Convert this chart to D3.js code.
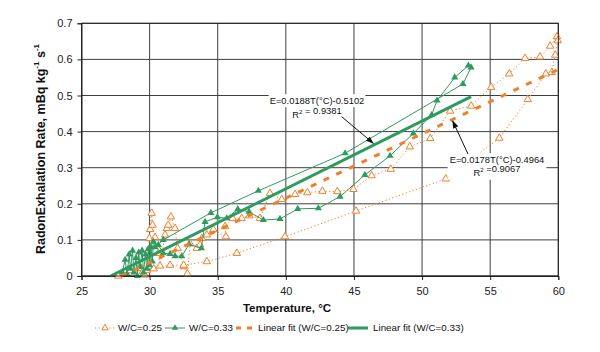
<!DOCTYPE html>
<html>
<head>
<meta charset="utf-8">
<script src="https://cdn.jsdelivr.net/npm/d3@7"></script>
<style>
  body { margin: 0; background: #fff; }
  svg { font-family: "Liberation Sans", Arial, sans-serif; }
</style>
</head>
<body>
<svg id="chart" width="600" height="352"></svg>
<script>
// values: [temperature °C, exhalation rate]
const tempTicks = [25, 30, 35, 40, 45, 50, 55, 60];
const rateTicks = [0, 0.1, 0.2, 0.3, 0.4, 0.5, 0.6, 0.7];

const wc25 = [
  [27.7, 0.0], [28.56, 0.015], [29.4, 0.021], [29.5, 0.012], [29.66, 0.003], [29.8, 0.015],
  [29.9, 0.026], [29.98, 0.104], [30.03, 0.129], [30.15, 0.174], [30.22, 0.141], [30.4, 0.107],
  [30.64, 0.063], [30.76, 0.028], [31.13, 0.114], [31.26, 0.132], [31.37, 0.141], [31.57, 0.164],
  [31.86, 0.132], [32.06, 0.077], [32.5, 0.026], [32.77, 0.006], [32.97, 0.09], [33.46, 0.077],
  [33.7, 0.086], [33.83, 0.104], [34.2, 0.114], [34.68, 0.129], [35.6, 0.109], [35.54, 0.137],
  [36.1, 0.16], [36.76, 0.16], [37.32, 0.167], [38.1, 0.16], [38.84, 0.229], [39.7, 0.212],
  [40.68, 0.226], [41.58, 0.231], [42.68, 0.235], [43.78, 0.234], [44.96, 0.24], [46.3, 0.278],
  [47.7, 0.296], [49.1, 0.358], [50.6, 0.381], [52.06, 0.457], [53.6, 0.471], [55.07, 0.523],
  [56.4, 0.56], [57.56, 0.603], [58.66, 0.607], [59.4, 0.637], [59.9, 0.663], [59.96, 0.652],
  [59.77, 0.612], [59.52, 0.564], [59.08, 0.56], [57.76, 0.489], [55.67, 0.382], [51.74, 0.269],
  [45.15, 0.18], [39.94, 0.109], [36.4, 0.063], [34.2, 0.04], [32.5, 0.03], [31.5, 0.03], [30.3, 0.02]
];

const wc33 = [
  [28.0, 0.01], [28.2, 0.045], [28.35, 0.005], [28.5, 0.06], [28.6, 0.02], [28.75, 0.07],
  [28.85, 0.01], [29.0, 0.05], [29.1, 0.0], [29.2, 0.065], [29.3, 0.025], [29.45, 0.07],
  [29.55, 0.01], [29.7, 0.06], [29.8, 0.02], [29.9, 0.075], [30.0, 0.03], [30.1, 0.08],
  [30.2, 0.04], [30.27, 0.095], [30.64, 0.086], [31.0, 0.063], [31.5, 0.061], [31.87, 0.055],
  [32.36, 0.055], [32.9, 0.088], [33.8, 0.077], [34.07, 0.15], [34.97, 0.163], [35.66, 0.16],
  [36.47, 0.185], [37.3, 0.178], [38.35, 0.155], [39.57, 0.158], [40.87, 0.186], [42.39, 0.1875],
  [43.98, 0.22], [45.8, 0.28], [47.65, 0.333], [49.36, 0.395], [50.7, 0.446], [51.1, 0.486],
  [52.4, 0.55], [53.4, 0.583], [53.6, 0.578], [53.0, 0.532], [44.35, 0.34], [37.98, 0.236],
  [34.5, 0.175], [31.0, 0.1], [30.4, 0.08]
];

// end points of the two fitted lines
const fit25 = [[27.9, 0.0], [60, 0.572]];
const fit33 = [[27.14, 0.0], [53.6, 0.497]];

const legendLabels = ['W/C=0.25', 'W/C=0.33', 'Linear fit (W/C=0.25)', 'Linear fit (W/C=0.33)'];

const orange = '#ef7f2a';
const green = '#2f9a5f';
const gridColor = '#3f3f3f';

const svg = d3.select('#chart');
const x = d3.scaleLinear().domain([25, 60]).range([81.5, 558.3]);
const y = d3.scaleLinear().domain([0, 0.7]).range([276, 23.3]);

// grid
svg.append('g').selectAll('line')
  .data(tempTicks)
  .enter().append('line')
  .attr('x1', d => x(d)).attr('x2', d => x(d))
  .attr('y1', y(0)).attr('y2', y(0.7))
  .attr('stroke', gridColor).attr('stroke-width', 1);

svg.append('g').selectAll('line')
  .data(rateTicks)
  .enter().append('line')
  .attr('x1', x(25)).attr('x2', x(60))
  .attr('y1', d => y(d)).attr('y2', d => y(d))
  .attr('stroke', gridColor).attr('stroke-width', 1);

const xAxis = svg.append('g')
  .attr('transform', `translate(0,${y(0)})`)
  .call(d3.axisBottom(x).tickValues(tempTicks).tickSize(4).tickPadding(7).tickFormat(d3.format('d')));
const yAxis = svg.append('g')
  .attr('transform', `translate(${x(25)},0)`)
  .call(d3.axisLeft(y).tickValues(rateTicks).tickSize(4).tickPadding(5).tickFormat(d => d === 0 ? '0' : d3.format('.1f')(d)));

[xAxis, yAxis].forEach(a => {
  a.selectAll('text').attr('font-size', 11).attr('fill', '#222').attr('font-family', '"Liberation Sans", Arial, sans-serif');
  a.selectAll('line').attr('stroke', '#222');
  a.select('.domain').attr('stroke', '#222');
});

const line = d3.line().x(d => x(d[0])).y(d => y(d[1]));

// W/C = 0.25 series
svg.append('path')
  .datum(wc25)
  .attr('d', line)
  .attr('fill', 'none')
  .attr('stroke', orange)
  .attr('stroke-width', 1)
  .attr('stroke-dasharray', '1.2,2.4');

svg.append('g').selectAll('path')
  .data(wc25)
  .enter().append('path')
  .attr('d', d3.symbol().type(d3.symbolTriangle).size(24))
  .attr('transform', d => `translate(${x(d[0])},${y(d[1])})`)
  .attr('fill', '#fff')
  .attr('stroke', orange)
  .attr('stroke-width', 1);

// W/C = 0.33 series
svg.append('path')
  .datum(wc33)
  .attr('d', line)
  .attr('fill', 'none')
  .attr('stroke', green)
  .attr('stroke-width', 1);

svg.append('g').selectAll('path')
  .data(wc33)
  .enter().append('path')
  .attr('d', d3.symbol().type(d3.symbolTriangle).size(22))
  .attr('transform', d => `translate(${x(d[0])},${y(d[1])})`)
  .attr('fill', green);

// fitted lines
svg.append('path')
  .datum(fit25)
  .attr('d', line)
  .attr('stroke', orange)
  .attr('stroke-width', 3)
  .attr('stroke-dasharray', '6,8');

svg.append('path')
  .datum(fit33)
  .attr('d', line)
  .attr('stroke', green)
  .attr('stroke-width', 3);

// frame
svg.append('rect')
  .attr('x', x(25)).attr('y', y(0.7))
  .attr('width', x(60) - x(25)).attr('height', y(0) - y(0.7))
  .attr('fill', 'none').attr('stroke', '#222').attr('stroke-width', 1);

// annotations
svg.append('defs').append('marker')
  .attr('id', 'head')
  .attr('viewBox', '0 0 10 10')
  .attr('refX', 9).attr('refY', 5)
  .attr('markerWidth', 8).attr('markerHeight', 8)
  .attr('orient', 'auto')
  .append('path')
  .attr('d', 'M0,1.5 L10,5 L0,8.5 Z')
  .attr('fill', '#111');

function note(lines, cx, cy, lineGap) {
  const g = svg.append('g');
  const texts = lines.map((parts, i) => {
    const t = g.append('text')
      .attr('x', cx).attr('y', cy + i * lineGap)
      .attr('text-anchor', 'middle')
      .attr('dominant-baseline', 'middle')
      .attr('font-size', 9.4)
      .attr('fill', '#111');
    parts.forEach(p => {
      if (p.sup) {
        t.append('tspan').attr('dy', -4).attr('font-size', 6).text(p.sup);
        t.append('tspan').attr('dy', 4).text('');
      } else {
        t.append('tspan').text(p.txt);
      }
    });
    return t;
  });
  return { g, texts };
}

const n1 = note([
  [{ txt: 'E=0.0188T(°C)-0.5102' }],
  [{ txt: 'R' }, { sup: '2' }, { txt: ' = 0.9381' }]
], 317, 101.7, 14);
n1.texts.forEach(t => {
  const b = t.node().getBBox();
  n1.g.insert('rect', 'text')
    .attr('x', b.x - 1).attr('y', b.y - 1)
    .attr('width', b.width + 2).attr('height', b.height + 2)
    .attr('fill', '#fff');
});

const n2 = note([
  [{ txt: 'E=0.0178T(°C)-0.4964' }],
  [{ txt: 'R' }, { sup: '2' }, { txt: ' =0.9067' }]
], 497, 160.7, 13.5);
{
  const b = n2.g.node().getBBox();
  n2.g.insert('rect', 'text')
    .attr('x', b.x - 2).attr('y', b.y - 1)
    .attr('width', b.width + 4).attr('height', b.height + 2)
    .attr('fill', '#fff');
}

svg.append('line')
  .attr('x1', 341.7).attr('y1', 116.7).attr('x2', 373.3).attr('y2', 143.3)
  .attr('stroke', '#111').attr('stroke-width', 1)
  .attr('marker-end', 'url(#head)');
svg.append('line')
  .attr('x1', 468).attr('y1', 154).attr('x2', 452.7).attr('y2', 121)
  .attr('stroke', '#111').attr('stroke-width', 1)
  .attr('marker-end', 'url(#head)');

// axis titles
svg.append('text')
  .attr('x', 287).attr('y', 309)
  .attr('text-anchor', 'middle').attr('dominant-baseline', 'middle')
  .attr('font-size', 11.5).attr('font-weight', 'bold').attr('fill', '#111')
  .text('Temperature, °C');

const yt = svg.append('text')
  .attr('transform', 'translate(42,149) rotate(-90)')
  .attr('text-anchor', 'middle').attr('dominant-baseline', 'middle')
  .attr('font-size', 12.5).attr('font-weight', 'bold').attr('fill', '#111');
yt.append('tspan').text('RadonExhalation Rate, mBq kg');
yt.append('tspan').attr('dy', -5).attr('font-size', 8).text('-1');
yt.append('tspan').attr('dy', 5).text(' s');
yt.append('tspan').attr('dy', -5).attr('font-size', 8).text('-1');

// legend
const legendY = 328;
const lg = svg.append('g');
const items = [
  { x0: 95, tx: 118, color: orange, width: 1, dash: '1.2,2.4', sym: 'open' },
  { x0: 165, tx: 189, color: green, width: 1, dash: null, sym: 'fill' },
  { x0: 236, tx: 258, color: orange, width: 3, dash: '5,6', sym: null },
  { x0: 348, tx: 373, color: green, width: 3, dash: null, sym: null }
];
items.forEach((it, i) => {
  lg.append('line')
    .attr('x1', it.x0).attr('x2', it.x0 + (it.dash && it.width > 1 ? 16 : 20))
    .attr('y1', legendY).attr('y2', legendY)
    .attr('stroke', it.color).attr('stroke-width', it.width)
    .attr('stroke-dasharray', it.dash);
  if (it.sym) {
    lg.append('path')
      .attr('d', d3.symbol().type(d3.symbolTriangle).size(18))
      .attr('transform', `translate(${it.x0 + 10},${legendY})`)
      .attr('fill', it.sym === 'fill' ? it.color : '#fff')
      .attr('stroke', it.color).attr('stroke-width', it.sym === 'fill' ? 0 : 1);
  }
  lg.append('text')
    .attr('x', it.tx).attr('y', legendY)
    .attr('dominant-baseline', 'middle')
    .attr('font-size', 9.8).attr('fill', '#111')
    .text(legendLabels[i]);
});
</script>
</body>
</html>
